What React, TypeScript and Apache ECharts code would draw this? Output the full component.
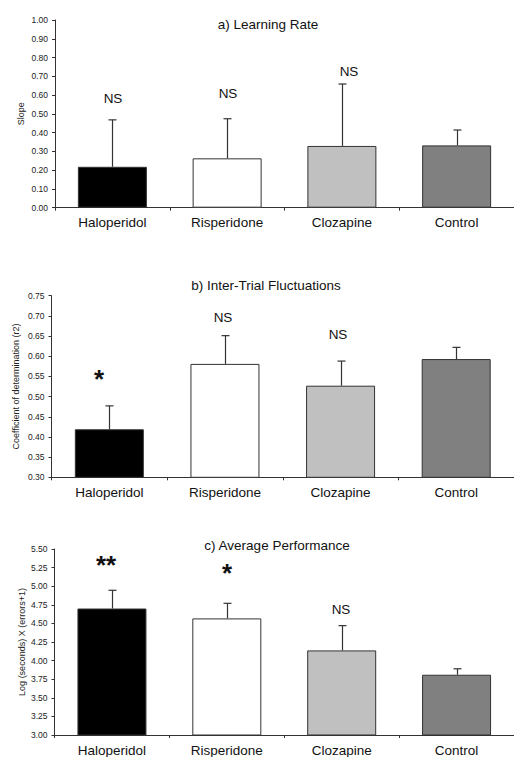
import React, { useEffect, useRef } from "react";
import * as echarts from "echarts";

const categories = ["Haloperidol", "Risperidone", "Clozapine", "Control"];
const barColors = ["#000000", "#ffffff", "#c0c0c0", "#808080"];

const learningMeans = [0.218, 0.263, 0.329, 0.332];
const learningUpper = [0.468, 0.474, 0.659, 0.414];
const learningSig = ["NS", "NS", "NS", ""];

const fluctMeans = [0.419, 0.581, 0.527, 0.593];
const fluctUpper = [0.477, 0.651, 0.588, 0.622];
const fluctSig = ["*", "NS", "NS", ""];

const perfMeans = [4.7, 4.567, 4.137, 3.81];
const perfUpper = [4.945, 4.77, 4.47, 3.89];
const perfSig = ["**", "*", "NS", ""];

const titles = ["a) Learning Rate", "b) Inter-Trial Fluctuations", "c) Average Performance"];
const yNames = ["Slope", "Coefficient of determination (r2)", "Log (seconds) X (errors+1)"];

const FONT = "'Liberation Sans', Arial, Helvetica, sans-serif";

export default function App() {
  const ref = useRef<HTMLDivElement>(null);
  useEffect(() => {
    if (!ref.current) return;
    const chart = echarts.init(ref.current, undefined, { renderer: "svg" });

    const grids = [
      { left: 55, top: 20, width: 466.5, height: 187.7 },
      { left: 51.5, top: 295.7, width: 468, height: 181.6 },
      { left: 54.5, top: 549, width: 465, height: 187.7 },
    ];
    const yRanges = [
      { min: 0, max: 1, interval: 0.1, dec: 2 },
      { min: 0.3, max: 0.75, interval: 0.05, dec: 2 },
      { min: 3, max: 5.5, interval: 0.25, dec: 2 },
    ];
    const means = [learningMeans, fluctMeans, perfMeans];
    const uppers = [learningUpper, fluctUpper, perfUpper];
    const nameGaps = [29.5, 31.3, 28.3];

    const xAxis = grids.map((_, i) => ({
      type: "category",
      gridIndex: i,
      data: categories,
      axisLine: { lineStyle: { color: "#333", width: 1 } },
      axisTick: { show: true, length: 3, lineStyle: { color: "#333" } },
      axisLabel: { color: "#111", fontSize: 13.5, fontFamily: FONT, margin: 8 },
    }));
    const yAxis = grids.map((_, i) => ({
      type: "value",
      gridIndex: i,
      min: yRanges[i].min,
      max: yRanges[i].max,
      interval: yRanges[i].interval,
      splitLine: { show: false },
      axisLine: { show: true, lineStyle: { color: "#333", width: 1 } },
      axisTick: { show: true, length: 3, lineStyle: { color: "#333" } },
      axisLabel: {
        color: "#222",
        fontSize: 8.5,
        fontFamily: FONT,
        margin: 7,
        formatter: (v: number) => v.toFixed(yRanges[i].dec),
      },
      name: yNames[i],
      nameLocation: "middle",
      nameGap: nameGaps[i],
      nameMoveOverlap: false,
      nameTextStyle: { color: "#222", fontSize: 9, fontFamily: FONT },
    }));

    const series: any[] = [];
    grids.forEach((_, i) => {
      series.push({
        type: "bar",
        xAxisIndex: i,
        yAxisIndex: i,
        barWidth: 69,
        data: means[i].map((v, j) => ({
          value: v,
          itemStyle: { color: barColors[j], borderColor: "#333", borderWidth: 1 },
        })),
        z: 2,
      });
      series.push({
        type: "custom",
        xAxisIndex: i,
        yAxisIndex: i,
        z: 3,
        data: means[i].map((v, j) => [j, v, uppers[i][j]]),
        renderItem: (params: any, api: any) => {
          const base = api.coord([api.value(0), api.value(1)]);
          const top = api.coord([api.value(0), api.value(2)]);
          const x = Math.round(base[0]) + 0.5;
          const style = { stroke: "#333", lineWidth: 1.2 };
          return {
            type: "group",
            children: [
              { type: "line", shape: { x1: x, y1: base[1], x2: x, y2: top[1] }, style },
              { type: "line", shape: { x1: x - 4, y1: top[1], x2: x + 4, y2: top[1] }, style },
            ],
          };
        },
      });
    });

    const sigPos = [
      [[113, 98], [228, 93.5], [349, 71]],
      [[99, 379], [223, 317.5], [338, 334]],
      [[106, 565], [227, 573], [341, 609]],
    ];
    const sigs = [learningSig, fluctSig, perfSig];
    const graphic: any[] = [];
    sigs.forEach((arr, i) => {
      arr.forEach((s, j) => {
        if (!s) return;
        const isStar = s.indexOf("*") >= 0;
        graphic.push({
          type: "text",
          x: sigPos[i][j][0],
          y: sigPos[i][j][1],
          style: {
            text: s,
            fontSize: isStar ? 26 : 13.5,
            fontWeight: isStar ? "bold" : "normal",
            fontFamily: FONT,
            fill: "#111",
            align: "center",
            verticalAlign: "middle",
          },
        });
      });
    });
    const titlePos = [[268, 24], [266, 285], [277, 545]];
    titles.forEach((t, i) => {
      graphic.push({
        type: "text",
        x: titlePos[i][0],
        y: titlePos[i][1],
        style: {
          text: t,
          fontSize: 13.5,
          fontFamily: FONT,
          fill: "#111",
          align: "center",
          verticalAlign: "middle",
        },
      });
    });

    chart.setOption({
      animation: false,
      backgroundColor: "#ffffff",
      grid: grids.map((g) => ({ ...g, containLabel: false })),
      xAxis,
      yAxis,
      series,
      graphic,
    });
    return () => chart.dispose();
  }, []);
  return (
    <div
      ref={ref}
      style={{ position: "fixed", left: 0, top: 0, width: 514, height: 757, background: "#fff" }}
    />
  );
}
